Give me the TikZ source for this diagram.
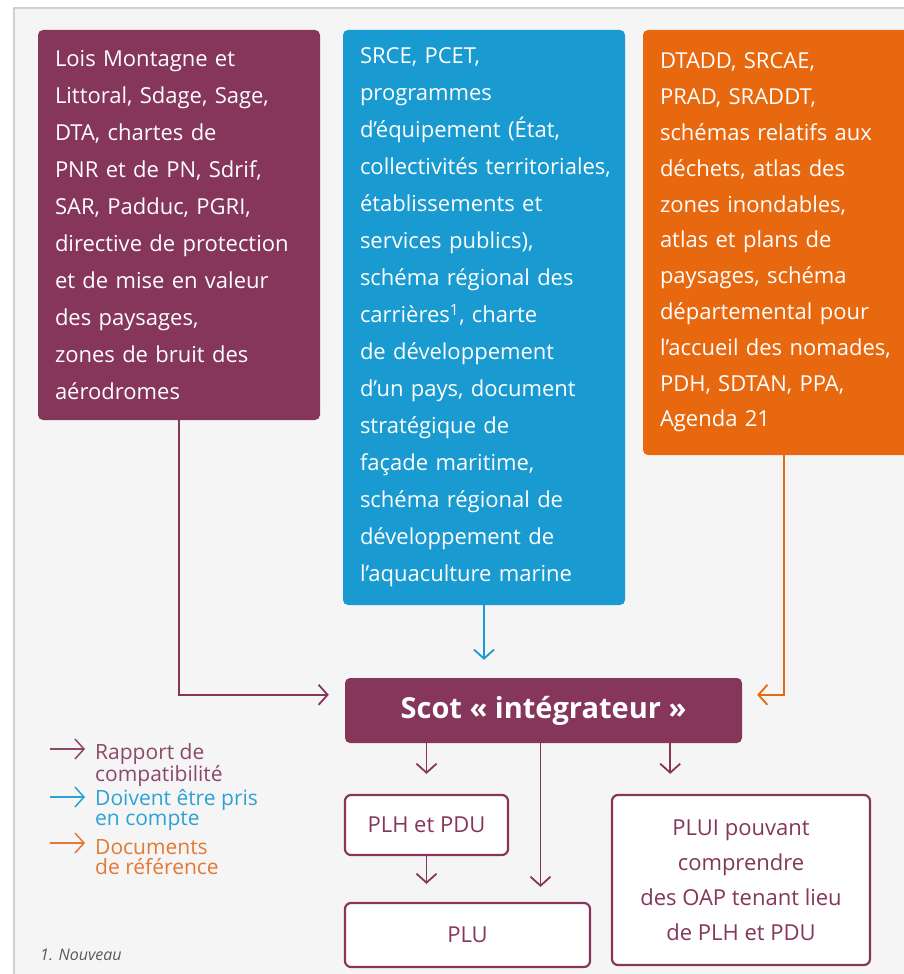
\documentclass[tikz,border=0pt]{standalone}
\usepackage{fontspec}
\setmainfont{Open Sans}
\usetikzlibrary{arrows.meta, positioning}

\definecolor{scotpurple}{RGB}{133,54,90}
\definecolor{takeblue}{RGB}{25,154,208}
\definecolor{reforange}{RGB}{232,104,16}
\definecolor{lightpurple}{RGB}{140,72,106}
\definecolor{lightblue}{RGB}{45,162,212}
\definecolor{lightorange}{RGB}{226,122,52}
\definecolor{panelgrey}{RGB}{245,245,245}
\definecolor{edgegrey}{RGB}{208,208,208}

\begin{document}
\begin{tikzpicture}[x=1pt, y=-1pt]
	\tikzset{
		source/.style={
			rounded corners=5pt,
			inner xsep=17pt,
			inner ysep=0pt,
			text width=248pt,
			minimum width=282pt,
			align=left,
			text=white,
			font=\fontsize{22}{37}\selectfont,
		},
		plan/.style={
			draw=scotpurple,
			line width=2.2pt,
			fill=white,
			rounded corners=6pt,
			align=center,
			text=scotpurple,
			font=\fontsize{22}{35}\selectfont,
		},
		flow/.style={
			line width=1.8pt,
			-{Straight Barb[length=9pt, width=20pt]},
		},
		legend text/.style={
			anchor=west,
			inner sep=0pt,
			align=left,
			font=\fontsize{21}{20}\selectfont,
		},
	}

	\useasboundingbox (0,0) rectangle (904,974);
	\clip (0,0) rectangle (904,974);
	\fill[white] (0,0) rectangle (904,974);
	\fill[panelgrey] (14,8) rectangle (904,974);
	\draw[edgegrey, line width=2pt] (14,974) -- (14,8) -- (904,8);

	\node[source, fill=scotpurple, minimum height=390pt] (lois) at (179,225) {Lois Montagne et\\Littoral, Sdage, Sage,\\DTA, chartes de\\PNR et de PN, Sdrif,\\SAR, Padduc, PGRI,\\directive de protection\\et de mise en valeur\\des paysages,\\zones de bruit des\\aérodromes};
	\node[source, fill=takeblue, minimum height=575pt] (srce) at (484,317.5) {SRCE, PCET,\\programmes\\d’équipement (État,\\\mbox{collectivités territoriales,}\\établissements et\\services publics),\\schéma régional des\\carrières\textsuperscript{1}, charte\\de développement\\d’un pays, document\\stratégique de\\façade maritime,\\schéma régional de\\développement de\\l’aquaculture marine};
	\node[source, fill=reforange, minimum height=425pt, inner xsep=15pt, font=\fontsize{22}{35.8}\selectfont] (dtadd) at (784,242.5) {DTADD, SRCAE,\\PRAD, SRADDT,\\schémas relatifs aux\\déchets, atlas des\\zones inondables,\\atlas et plans de\\paysages, schéma\\départemental pour\\\mbox{l’accueil des nomades,}\\PDH, SDTAN, PPA,\\Agenda 21};

	\node[fill=scotpurple, rounded corners=5pt, minimum width=397pt, minimum height=65pt, text=white, font=\fontsize{29}{34}\selectfont\bfseries] (scot) at (543.5,710.5) {Scot « intégrateur »};

	\node[plan, minimum width=163pt, minimum height=60pt] (plh) at (426.5,825) {PLH et PDU};
	\node[plan, minimum width=245pt, minimum height=64pt] (plu) at (467.5,935) {PLU};
	\node[plan, minimum width=258pt, minimum height=170pt] (plui) at (741,880) {PLUI pouvant\\comprendre\\des OAP tenant lieu\\de PLH et PDU};

	\draw[flow, scotpurple, shorten >=16pt] (lois.south) |- ([yshift=-17pt]scot.north west);
	\draw[flow, takeblue, shorten >=18pt] (srce.south) -- (srce.south |- scot.north);
	\draw[flow, reforange, shorten >=15pt] (dtadd.south) |- ([yshift=-17pt]scot.north east);

	\draw[flow, scotpurple, shorten >=20pt] (scot.south -| plh.north) -- (plh.north);
	\draw[flow, scotpurple, shorten >=15pt] ([xshift=-3pt]scot.south) -- ([xshift=-3pt]scot.south |- plu.north);
	\draw[flow, scotpurple, shorten >=20pt] ([xshift=-72pt]scot.south east) -- ([xshift=-72pt]scot.south east |- plui.north);
	\draw[flow, scotpurple, shorten >=18pt] (plh.south) -- (plh.south |- plu.north);

	\node[legend text, text=lightpurple] (compat) at (95,765) {Rapport de\\compatibilité};
	\node[legend text, text=lightblue] (compte) at (95,810) {Doivent être pris\\en compte};
	\node[legend text, text=lightorange] (refer) at (95,857) {Documents\\de référence};
	\coordinate (k1) at (50,749);
	\coordinate (k2) at (50,797);
	\coordinate (k3) at (50,843);
	\draw[flow, line width=1.5pt, lightpurple, shorten >=10pt] (k1) -- (k1 -| compat.west);
	\draw[flow, line width=1.5pt, lightblue, shorten >=10pt] (k2) -- (k2 -| compte.west);
	\draw[flow, line width=1.5pt, lightorange, shorten >=10pt] (k3) -- (k3 -| refer.west);

	\node[anchor=west, inner sep=0pt, text=black!65, font=\fontsize{16}{18}\selectfont\itshape] (nouveau) at (40,955) {1. Nouveau};
\end{tikzpicture}
\end{document}
